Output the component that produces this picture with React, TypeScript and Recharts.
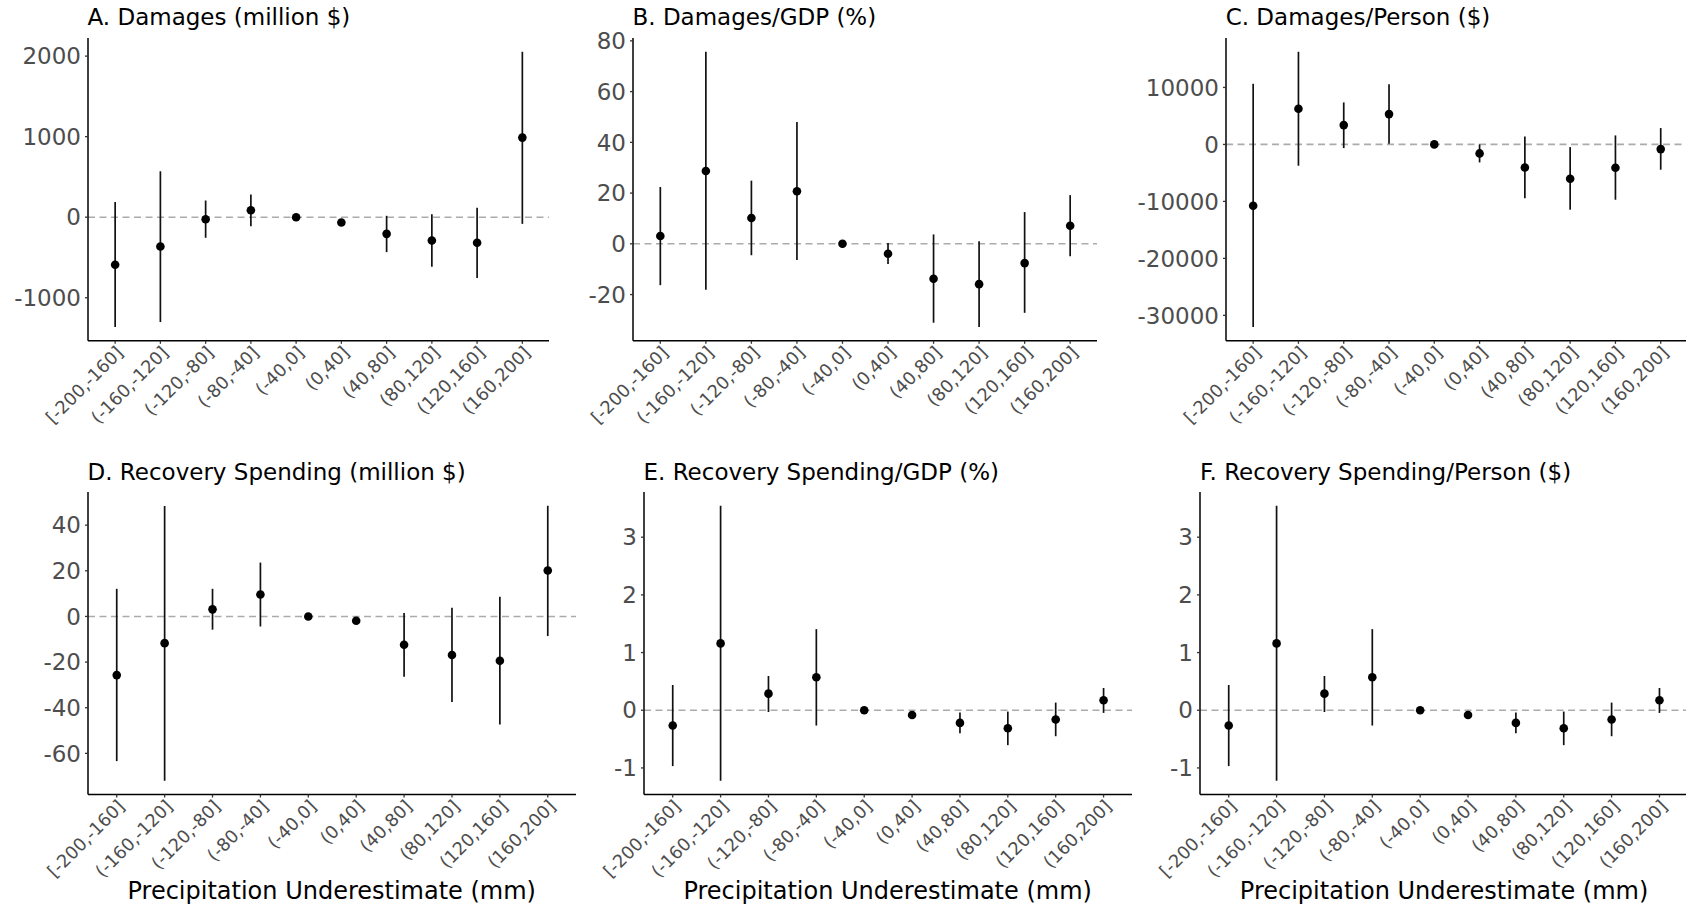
import { ComposedChart, Line, XAxis, YAxis, ReferenceLine, ErrorBar } from 'recharts';

const FONT = '"DejaVu Sans", Verdana, sans-serif';

const bins = [
  '[-200,-160]',
  '(-160,-120]',
  '(-120,-80]',
  '(-80,-40]',
  '(-40,0]',
  '(0,40]',
  '(40,80]',
  '(80,120]',
  '(120,160]',
  '(160,200]',
];

// A. Damages (million $)
const damagesEst = [-591, -364, -25, 87, 0, -66, -207, -289, -318, 988];
const damagesLo = [-1364, -1302, -256, -112, 0, -66, -434, -616, -756, -83];
const damagesHi = [190, 570, 207, 281, 0, -66, 17, 37, 116, 2054];
const damagesTicks = [-1000, 0, 1000, 2000];

// B. Damages/GDP (%)
const damGdpEst = [3.1, 28.7, 10.2, 20.7, 0, -3.9, -13.8, -15.9, -7.6, 7.1];
const damGdpLo = [-16.3, -18.1, -4.5, -6.4, 0, -8.0, -31.1, -32.8, -27.2, -4.9];
const damGdpHi = [22.4, 75.7, 24.9, 48.0, 0, 0.3, 3.7, 1.0, 12.5, 19.2];
const damGdpTicks = [-20, 0, 20, 40, 60, 80];

// C. Damages/Person ($)
const damPersonEst = [-10760, 6260, 3390, 5320, 0, -1580, -4040, -6020, -4090, -820];
const damPersonLo = [-32050, -3740, -640, 120, 0, -3160, -9470, -11460, -9710, -4440];
const damPersonHi = [10640, 16260, 7370, 10580, 0, 0, 1400, -470, 1580, 2870];
const damPersonTicks = [-30000, -20000, -10000, 0, 10000];

// D. Recovery Spending (million $)
const recEst = [-25.7, -11.7, 3.1, 9.6, 0, -1.9, -12.4, -16.9, -19.4, 20.1];
const recLo = [-63.4, -72.0, -5.8, -4.4, 0, -1.9, -26.4, -37.5, -47.4, -8.6];
const recHi = [12.1, 48.4, 12.1, 23.6, 0, -1.9, 1.5, 3.8, 8.6, 48.5];
const recTicks = [-60, -40, -20, 0, 20, 40];

// E. Recovery Spending/GDP (%)
const recGdpEst = [-0.265, 1.159, 0.288, 0.571, 0, -0.081, -0.219, -0.311, -0.161, 0.173];
const recGdpLo = [-0.968, -1.222, -0.03, -0.265, 0, -0.081, -0.398, -0.605, -0.45, -0.046];
const recGdpHi = [0.438, 3.545, 0.594, 1.406, 0, -0.081, -0.04, -0.023, 0.133, 0.386];
const recGdpTicks = [-1, 0, 1, 2, 3];

// F. Recovery Spending/Person ($)
const recPersonEst = [-0.265, 1.159, 0.288, 0.571, 0, -0.081, -0.219, -0.311, -0.161, 0.173];
const recPersonLo = [-0.968, -1.222, -0.03, -0.265, 0, -0.081, -0.398, -0.605, -0.45, -0.046];
const recPersonHi = [0.438, 3.545, 0.594, 1.406, 0, -0.081, -0.04, -0.023, 0.133, 0.386];
const recPersonTicks = [-1, 0, 1, 2, 3];

const X_TITLE = 'Precipitation Underestimate (mm)';

function BinTick(props: any) {
  const { x, y, payload } = props;
  const tx = x + 9;
  const ty = y + 10;
  return (
    <text
      x={tx}
      y={ty}
      transform={`rotate(-45, ${tx}, ${ty})`}
      textAnchor="end"
      fontSize={17.8}
      fill="#4D4D4D"
      fontFamily={FONT}
    >
      {payload.value}
    </text>
  );
}

interface PanelProps {
  title: string;
  est: number[];
  lo: number[];
  hi: number[];
  ticks: number[];
  left: number;
  right: number;
  top: number;
  bottom: number;
  yW: number;
  xTitle?: boolean;
}

function Panel({ title, est, lo, hi, ticks, left, right, top, bottom, yW, xTitle }: PanelProps) {
  const data = bins.map((bin, i) => ({
    bin,
    est: est[i],
    err: [est[i] - lo[i], hi[i] - est[i]],
  }));

  // ggplot-style 5% expansion
  const dMin = Math.min(...lo);
  const dMax = Math.max(...hi);
  const pad = (dMax - dMin) * 0.05;
  const domain = [dMin - pad, dMax + pad];

  const plotW = right - left;
  const xPad = (plotW / 10.2) * 0.6;
  const cLeft = left - yW;
  const cTop = top - 10;
  const xAxisH = 100;
  const cW = right - cLeft;
  const cH = bottom - cTop + xAxisH;

  return (
    <>
      <div
        style={{
          position: 'absolute',
          left,
          top: top - 31.5,
          fontSize: 23,
          lineHeight: '23px',
          whiteSpace: 'nowrap',
          color: '#000',
          fontFamily: FONT,
        }}
      >
        {title}
      </div>
      <div style={{ position: 'absolute', left: cLeft, top: cTop, width: cW, height: cH }}>
        <ComposedChart width={cW} height={cH} data={data} margin={{ top: 10, right: 0, bottom: 0, left: 0 }}>
          <XAxis
            dataKey="bin"
            type="category"
            scale="point"
            padding={{ left: xPad, right: xPad }}
            interval={0}
            height={xAxisH}
            tickSize={3}
            tickMargin={0}
            axisLine={{ stroke: '#000', strokeWidth: 1.5 }}
            tickLine={{ stroke: '#333', strokeWidth: 1.3 }}
            tick={<BinTick />}
          />
          <YAxis
            type="number"
            domain={domain}
            allowDataOverflow
            ticks={ticks}
            interval={0}
            width={yW}
            tickSize={3}
            tickMargin={4}
            axisLine={{ stroke: '#000', strokeWidth: 1.5 }}
            tickLine={{ stroke: '#333', strokeWidth: 1.3 }}
            tick={{ fontSize: 23, fill: '#4D4D4D', fontFamily: FONT }}
          />
          <ReferenceLine y={0} stroke="#ababab" strokeWidth={1.6} strokeDasharray="7 4.5" />
          <Line
            dataKey="est"
            stroke="none"
            dot={{ r: 4.3, fill: '#000', stroke: 'none' }}
            activeDot={false}
            isAnimationActive={false}
          >
            <ErrorBar dataKey="err" width={0} stroke="#111" strokeWidth={1.7} direction="y" />
          </Line>
        </ComposedChart>
      </div>
      {xTitle && (
        <div
          style={{
            position: 'absolute',
            left,
            width: plotW,
            top: 879,
            textAlign: 'center',
            fontSize: 24,
            lineHeight: '24px',
            whiteSpace: 'nowrap',
            color: '#000',
            fontFamily: FONT,
          }}
        >
          {X_TITLE}
        </div>
      )}
    </>
  );
}

export default function App() {
  const r1Top = 37.7;
  const r1Bottom = 340.5;
  const r2Top = 492;
  const r2Bottom = 794.5;
  return (
    <div
      style={{
        position: 'absolute',
        left: 0,
        top: 0,
        width: 1686,
        height: 908,
        overflow: 'hidden',
        background: '#fff',
        fontFamily: FONT,
      }}
    >
      <Panel title="A. Damages (million $)" est={damagesEst} lo={damagesLo} hi={damagesHi} ticks={damagesTicks}
        left={87.5} right={549} top={r1Top} bottom={r1Bottom} yW={85} />
      <Panel title="B. Damages/GDP (%)" est={damGdpEst} lo={damGdpLo} hi={damGdpHi} ticks={damGdpTicks}
        left={632.5} right={1097} top={r1Top} bottom={r1Bottom} yW={100} />
      <Panel title="C. Damages/Person ($)" est={damPersonEst} lo={damPersonLo} hi={damPersonHi} ticks={damPersonTicks}
        left={1225.7} right={1687.6} top={r1Top} bottom={r1Bottom} yW={110} />
      <Panel title="D. Recovery Spending (million $)" est={recEst} lo={recLo} hi={recHi} ticks={recTicks}
        left={87.5} right={576} top={r2Top} bottom={r2Bottom} yW={85} xTitle />
      <Panel title="E. Recovery Spending/GDP (%)" est={recGdpEst} lo={recGdpLo} hi={recGdpHi} ticks={recGdpTicks}
        left={643.5} right={1131.8} top={r2Top} bottom={r2Bottom} yW={100} xTitle />
      <Panel title="F. Recovery Spending/Person ($)" est={recPersonEst} lo={recPersonLo} hi={recPersonHi} ticks={recPersonTicks}
        left={1200} right={1688.2} top={r2Top} bottom={r2Bottom} yW={100} xTitle />
    </div>
  );
}
